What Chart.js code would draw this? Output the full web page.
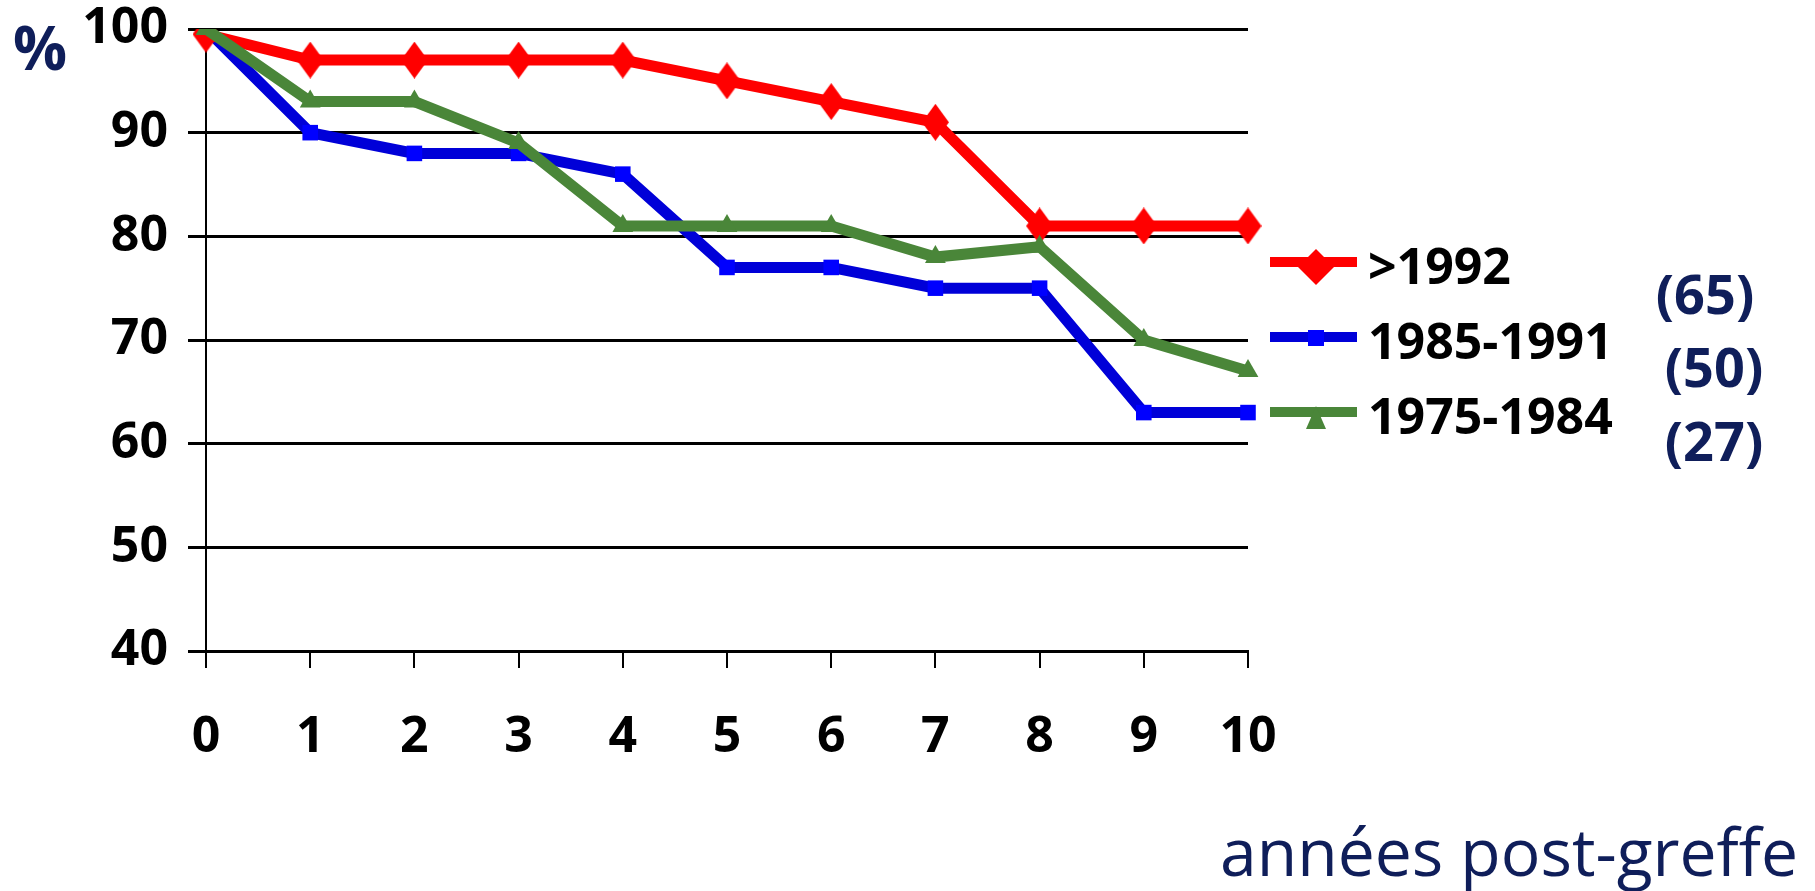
<!DOCTYPE html>
<html>
<head>
<meta charset="utf-8">
<script src="https://cdn.jsdelivr.net/npm/chart.js@4.4.1/dist/chart.umd.min.js"></script>
<style>
  html, body { margin: 0; padding: 0; background: #ffffff; overflow: hidden; }
  #wrap { position: relative; width: 1815px; height: 891px; }
  canvas { display: block; }
</style>
</head>
<body>
<div id="wrap"><canvas id="c" width="1815" height="891"></canvas></div>
<script>
// ---------- data ----------
const years = ['0', '1', '2', '3', '4', '5', '6', '7', '8', '9', '10'];
const seriesNames = ['>1992', '1985-1991', '1975-1984'];
const after1992 = [99.5, 97, 97, 97, 97, 95, 93, 91, 81, 81, 81];
const from1985to1991 = [100, 90, 88, 88, 86, 77, 77, 75, 75, 63, 63];
const from1975to1984 = [100, 93, 93, 89, 81, 81, 81, 78, 79, 70, 67];
const patientCounts = ['(65)', '(50)', '(27)'];
const yTicks = [40, 50, 60, 70, 80, 90, 100];
const yUnit = '%';
const xTitle = 'années post-greffe';

// ---------- styles ----------
const RED = '#FF0000', BLUE_LINE = '#0000D8', BLUE_PT = '#0000FF', GREEN = '#4A8639', NAVY = '#0F1E5A';
const FONT = '"Open Sans", "DejaVu Sans", sans-serif';

function diamond(w, h, color) {
  const c = document.createElement('canvas');
  c.width = w; c.height = h;
  const g = c.getContext('2d');
  g.fillStyle = color;
  g.beginPath();
  g.moveTo(w / 2, 0); g.lineTo(w, h / 2); g.lineTo(w / 2, h); g.lineTo(0, h / 2);
  g.closePath(); g.fill();
  return c;
}
const diamondPt = diamond(27, 37, RED);
const diamondLeg = diamond(36, 36, RED);

const extras = {
  id: 'extras',
  afterDraw(chart) {
    const ctx = chart.ctx;
    ctx.save();
    // legend
    const lx0 = 1270, lx1 = 1357, lxm = 1316, ly0 = 262, dy = 75, tx = 1368;
    chart.data.datasets.forEach((ds, i) => {
      const y = ly0 + i * dy;
      ctx.strokeStyle = ds.borderColor;
      ctx.lineWidth = 10;
      ctx.lineCap = 'butt';
      ctx.beginPath(); ctx.moveTo(lx0, y); ctx.lineTo(lx1, y); ctx.stroke();
      ctx.fillStyle = ds.pointBackgroundColor;
      if (ds.pointStyle === diamondPt) {
        ctx.drawImage(diamondLeg, lxm - 18, y + 5 - 18);
      } else if (ds.pointStyle === 'rect') {
        ctx.fillRect(lxm - 8, y - 7, 16, 16);
      } else if (ds.pointStyle === 'triangle') {
        ctx.beginPath();
        ctx.moveTo(lxm, y - 6); ctx.lineTo(lxm + 10, y + 17); ctx.lineTo(lxm - 10, y + 17);
        ctx.closePath(); ctx.fill();
      }
      ctx.fillStyle = '#000';
      ctx.font = 'bold 50px ' + FONT;
      ctx.textAlign = 'left';
      ctx.textBaseline = 'alphabetic';
      ctx.fillText(ds.label, tx, y + 22);
    });
    // counts
    ctx.fillStyle = NAVY;
    ctx.font = 'bold 54px ' + FONT;
    ctx.textAlign = 'center';
    const cx = [1705, 1714, 1714], cy = [314, 387, 461];
    patientCounts.forEach((t, i) => ctx.fillText(t, cx[i], cy[i]));
    // unit
    ctx.font = 'bold 60px ' + FONT;
    ctx.fillText(yUnit, 40, 70);
    // x title
    ctx.font = '66px ' + FONT;
    ctx.textAlign = 'left';
    ctx.fillText(xTitle, 1220, 876);
    ctx.restore();
  }
};

function zeroPad(s) { s.paddingTop = 0; s.paddingBottom = 0; s.paddingLeft = 0; s.paddingRight = 0; }

new Chart(document.getElementById('c'), {
  type: 'line',
  data: {
    labels: years,
    datasets: [
      { label: seriesNames[0], data: after1992, borderColor: RED, backgroundColor: RED,
        pointBackgroundColor: RED, pointBorderColor: RED, borderWidth: 11,
        pointStyle: diamondPt, pointRadius: 14, order: 1 },
      { label: seriesNames[1], data: from1985to1991, borderColor: BLUE_LINE, backgroundColor: BLUE_PT,
        pointBackgroundColor: BLUE_PT, pointBorderColor: BLUE_PT, pointBorderWidth: 0, borderWidth: 11,
        pointStyle: 'rect', pointRadius: 11, order: 2 },
      { label: seriesNames[2], data: from1975to1984, borderColor: GREEN, backgroundColor: GREEN,
        pointBackgroundColor: GREEN, pointBorderColor: GREEN, pointBorderWidth: 0, borderWidth: 11,
        pointStyle: 'triangle', pointRadius: 12, order: 0 }
    ]
  },
  options: {
    responsive: false,
    animation: false,
    events: [],
    layout: { padding: { top: 29, right: 567, left: 0, bottom: 0 } },
    plugins: { legend: { display: false }, tooltip: { enabled: false } },
    elements: { line: { tension: 0, borderJoinStyle: 'miter', borderCapStyle: 'butt' } },
    scales: {
      x: {
        type: 'category',
        offset: false,
        ticks: { color: '#000', font: { family: FONT, weight: 'bold', size: 50, lineHeight: 1 },
                 padding: 45, maxRotation: 0, autoSkip: false },
        grid: { drawOnChartArea: false, color: '#000', lineWidth: 2, tickLength: 17 },
        border: { color: '#000', width: 3 },
        afterFit(s) { s.height = 240; zeroPad(s); }
      },
      y: {
        min: yTicks[0], max: yTicks[yTicks.length - 1],
        afterBuildTicks(s) { s.ticks = yTicks.map(v => ({ value: v })); },
        ticks: { color: '#000', font: { family: FONT, weight: 'bold', size: 50, lineHeight: 1 }, padding: 20 },
        grid: { color: '#000', lineWidth: 3, tickLength: 18 },
        border: { color: '#000', width: 2 },
        afterFit(s) { s.width = 206; zeroPad(s); }
      }
    }
  },
  plugins: [extras]
});
</script>
</body>
</html>
